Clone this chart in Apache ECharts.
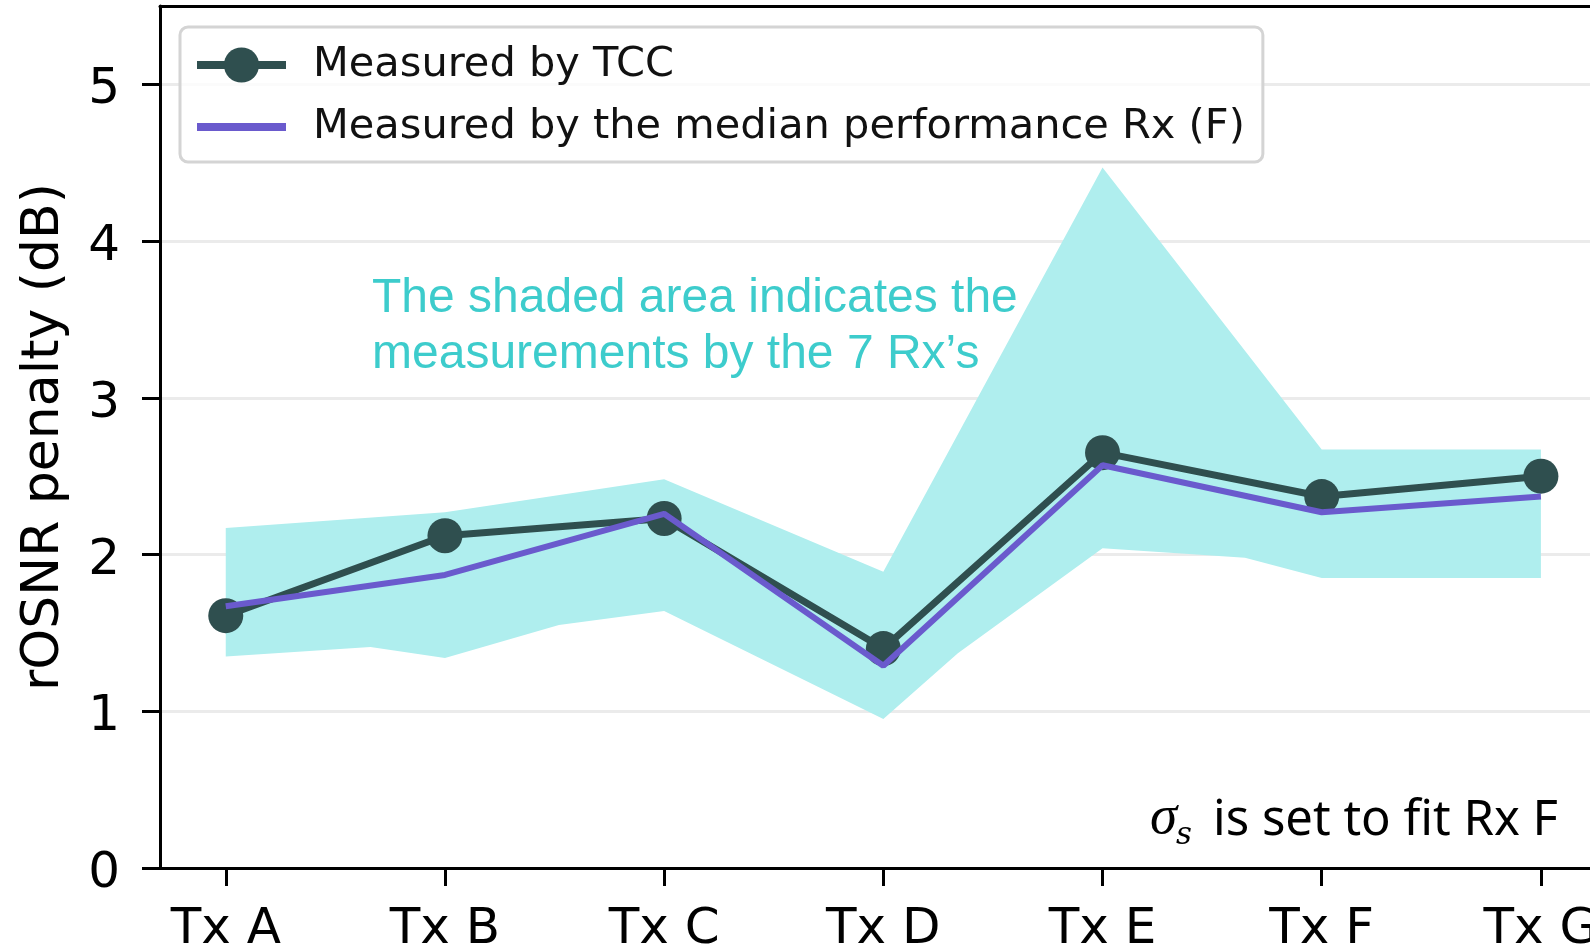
<!DOCTYPE html>
<html>
<head>
<meta charset="utf-8">
<script src="https://cdn.jsdelivr.net/npm/echarts@6/dist/echarts.min.js"></script>
<style>
  html, body { margin: 0; padding: 0; background: #fff; }
  #chart { width: 1590px; height: 948px; }
</style>
</head>
<body>
<div id="chart"></div>
<script>
// rOSNR penalty per transmitter, TCC vs. median Rx, with the spread of the 7 Rx's
const categories = ['Tx A', 'Tx B', 'Tx C', 'Tx D', 'Tx E', 'Tx F', 'Tx G']
const tccValues = [1.61, 2.12, 2.23, 1.40, 2.65, 2.37, 2.50]
const medianRxValues = [1.67, 1.87, 2.26, 1.29, 2.57, 2.27, 2.37]
// shaded band edges, [category index, dB]
const bandUpper = [[0, 2.17], [1, 2.27], [2, 2.48], [3, 1.89], [4, 4.47], [5, 2.67], [6, 2.67]]
const bandLower = [[0, 1.35], [0.66, 1.41], [1, 1.34], [1.52, 1.55], [2, 1.64], [3, 0.95],
  [3.34, 1.37], [4, 2.04], [4.65, 1.98], [5, 1.85], [6, 1.85]]
const yTicks = [0, 1, 2, 3, 4, 5]
const xTicks = categories.map((_, i) => i)

const chart = echarts.init(document.getElementById('chart'), null, { renderer: 'canvas' })

const dark = '#2f4f4f'
const purple = '#6a5acd'
const font = 'DejaVu Sans'

const bandPoly = bandUpper.concat(bandLower.slice().reverse())

const option = {
  animation: false,
  grid: { left: 160, right: 0, top: 6, bottom: 80, outerBoundsMode: 'none', containLabel: false },
  legend: {
    orient: 'vertical',
    left: 180,
    top: 27,
    padding: [16, 18, 13, 13],
    itemWidth: 89,
    itemHeight: 44,
    itemGap: 18,
    backgroundColor: 'rgba(255,255,255,0.8)',
    borderColor: '#d4d4d4',
    borderWidth: 3,
    borderRadius: 8,
    textStyle: { fontFamily: font, fontSize: 41.5, color: '#111', lineHeight: 44, padding: [0, 0, 0, 22] },
    data: [
      { name: 'Measured by TCC', lineStyle: { width: 8 } },
      { name: 'Measured by the median performance Rx (F)', icon: 'path://M0,0 H89 V8 H0 Z' }
    ],
    z: 10
  },
  xAxis: [
    {
      type: 'value',
      min: -0.3,
      max: 6.224,
      axisLine: { show: true, onZero: false, lineStyle: { color: '#000', width: 3 } },
      axisTick: { show: true, length: 18, lineStyle: { color: '#000', width: 3 }, customValues: xTicks },
      axisLabel: {
        customValues: xTicks,
        formatter: (v) => categories[Math.round(v)] || '',
        fontFamily: font, fontSize: 50, color: '#000', margin: 37
      },
      splitLine: { show: false }
    },
    {
      // top frame edge only
      type: 'value',
      position: 'top',
      min: -0.3,
      max: 6.224,
      axisLine: { show: true, onZero: false, lineStyle: { color: '#000', width: 3 } },
      axisTick: { show: false },
      axisLabel: { show: false },
      splitLine: { show: false }
    }
  ],
  yAxis: {
    type: 'value',
    min: 0,
    max: 5.5,
    interval: 1,
    name: 'rOSNR penalty (dB)',
    nameLocation: 'middle',
    nameGap: 90,
    nameTextStyle: { fontFamily: font, fontSize: 52, color: '#000' },
    axisLine: { show: true, onZero: false, lineStyle: { color: '#000', width: 3 } },
    axisTick: { show: true, length: 18, lineStyle: { color: '#000', width: 3 }, customValues: yTicks },
    axisLabel: {
      customValues: yTicks, fontFamily: font, fontSize: 50, color: '#000', margin: 40,
      verticalAlign: 'top', lineHeight: 12
    },
    splitLine: { show: true, lineStyle: { color: '#ebebeb', width: 3 } }
  },
  series: [
    {
      type: 'custom',
      name: 'band',
      silent: true,
      z: 1,
      data: [0],
      renderItem: (params, api) => ({
        type: 'polygon',
        shape: { points: bandPoly.map((p) => api.coord(p)) },
        style: { fill: '#afeeee' }
      })
    },
    {
      type: 'line',
      name: 'Measured by TCC',
      data: tccValues.map((v, i) => [i, v]),
      symbol: 'circle',
      symbolSize: 35,
      color: dark,
      itemStyle: { color: dark },
      lineStyle: { color: dark, width: 7 },
      z: 3
    },
    {
      type: 'line',
      name: 'Measured by the median performance Rx (F)',
      data: medianRxValues.map((v, i) => [i, v]),
      symbol: 'none',
      color: purple,
      lineStyle: { color: purple, width: 6 },
      z: 4
    }
  ],
  graphic: [
    {
      type: 'text',
      left: 372,
      top: 271,
      style: {
        text: 'The shaded area indicates the\nmeasurements by the 7 Rx\u2019s',
        fontFamily: 'Liberation Sans',
        fontSize: 48,
        lineHeight: 56,
        fill: '#3dcccc'
      }
    },
    {
      type: 'text',
      x: 1150,
      y: 819,
      style: {
        text: '\u03c3',
        fontFamily: 'Liberation Serif',
        fontStyle: 'italic',
        fontSize: 55,
        fill: '#000',
        verticalAlign: 'middle'
      }
    },
    {
      type: 'text',
      x: 1176,
      y: 836,
      style: {
        text: 's',
        fontFamily: 'DejaVu Serif',
        fontStyle: 'italic',
        fontSize: 31,
        fill: '#000',
        verticalAlign: 'middle'
      }
    },
    {
      type: 'text',
      x: 1558,
      y: 821,
      style: {
        text: 'is set to fit Rx F',
        fontFamily: 'Noto Sans',
        fontSize: 49,
        fill: '#000',
        align: 'right',
        verticalAlign: 'middle'
      }
    }
  ]
}

chart.setOption(option)
</script>
</body>
</html>
